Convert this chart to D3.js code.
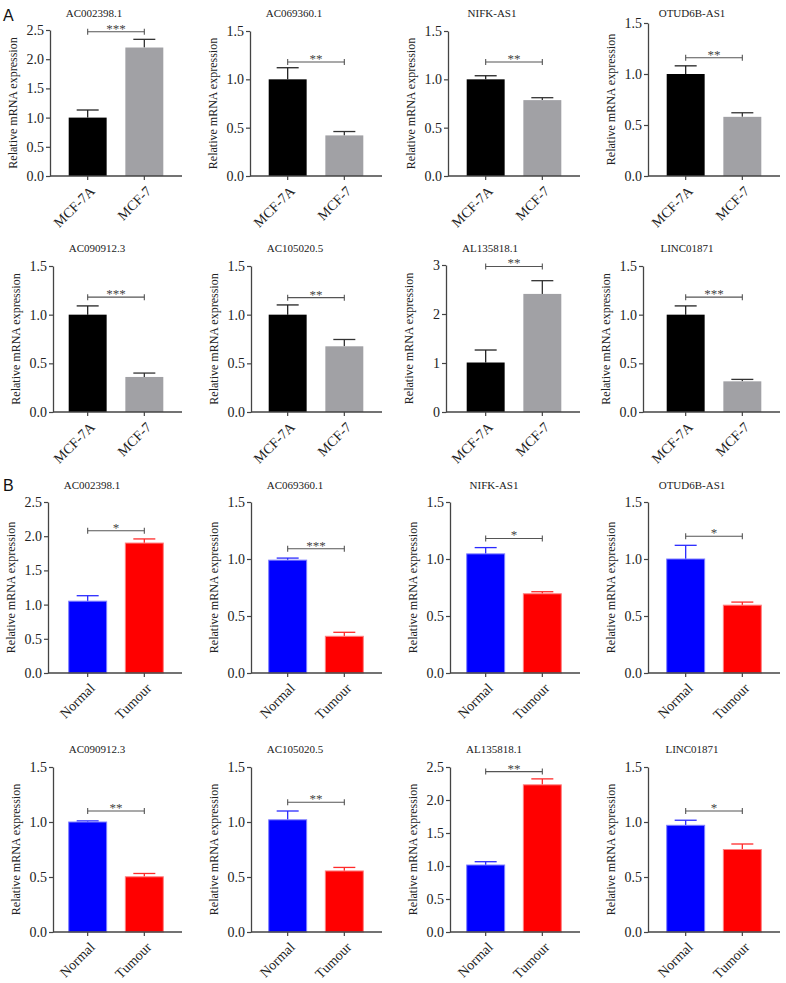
<!DOCTYPE html>
<html><head><meta charset="utf-8">
<script src="https://cdn.jsdelivr.net/npm/d3@7"></script>
<style>body{margin:0;background:#fff}svg{display:block}</style>
</head><body><svg id="c" width="786" height="983"></svg>
<script>
// ---------- DATA ----------
const genes = ["AC002398.1","AC069360.1","NIFK-AS1","OTUD6B-AS1","AC090912.3","AC105020.5","AL135818.1","LINC01871"];
const cellCats = ["MCF-7A","MCF-7"];
const tissueCats = ["Normal","Tumour"];

const cellMeans  = [[1.00,2.20],[1.00,0.42],[1.00,0.785],[1.00,0.58],[1.00,0.36],[1.00,0.675],[1.01,2.41],[1.00,0.315]];
const cellErrors = [[0.13,0.14],[0.12,0.04],[0.037,0.025],[0.08,0.04],[0.09,0.04],[0.10,0.07],[0.255,0.27],[0.09,0.02]];
const cellYMax   = [2.5,1.5,1.5,1.5,1.5,1.5,3,1.5];
const cellTickStep = [0.5,0.5,0.5,0.5,0.5,0.5,1,0.5];
const cellSig    = ["***","**","**","**","***","**","**","***"];
const cellSigY   = [2.47,1.18,1.18,1.16,1.18,1.175,2.97,1.18];

const tissueMeans  = [[1.05,1.90],[0.99,0.322],[1.045,0.695],[1.00,0.595],[1.00,0.502],[1.02,0.555],[1.015,2.23],[0.97,0.75]];
const tissueErrors = [[0.08,0.06],[0.018,0.035],[0.055,0.018],[0.12,0.027],[0.01,0.03],[0.08,0.032],[0.05,0.09],[0.046,0.05]];
const tissueYMax   = [2.5,1.5,1.5,1.5,1.5,1.5,2.5,1.5];
const tissueTickStep = [0.5,0.5,0.5,0.5,0.5,0.5,0.5,0.5];
const tissueSig    = ["*","***","*","*","**","**","**","*"];
const tissueSigY   = [2.08,1.09,1.18,1.20,1.10,1.18,2.43,1.10];

const yLabel = "Relative mRNA expression";
const panelLetters = ["A","B"];

// ---------- LAYOUT ----------
const rowTop = [[30,31,31,23],[266,266,265,266],[502,502,502,502],[767,767,767,767]];
const rowBottom = [176,412,673,932];
const rowTitleY = [17,252,489,753];
const rowAxisX = [[50,250,448,648],[53,251,446,643],[48,251,450,648],[53,251,450,648]];
const colStart = [50,250,448,648];
const plotW = 132;
const letterY = [21,491];

const serif = "'Liberation Serif','Times New Roman',serif";
const sans = "'Liberation Sans',Arial,sans-serif";
const axisColor = "#444";

const sets = [
  {cats: cellCats, means: cellMeans, errs: cellErrors, ymax: cellYMax, step: cellTickStep, sig: cellSig, sigY: cellSigY,
   fill: ["#000000","#a1a1a5"], stroke: ["none","none"], errColor: ["#222","#333"]},
  {cats: tissueCats, means: tissueMeans, errs: tissueErrors, ymax: tissueYMax, step: tissueTickStep, sig: tissueSig, sigY: tissueSigY,
   fill: ["#0000ff","#ff0000"], stroke: ["#8080ff","#ff8080"], errColor: ["#2a2aff","#ff2a2a"]}
];

const svg = d3.select("#c");
svg.append("rect").attr("width",786).attr("height",983).attr("fill","#fff");

panelLetters.forEach((L,k)=>{
  svg.append("text").attr("x",3).attr("y",letterY[k]).attr("font-family",sans)
    .attr("font-size",16).attr("fill","#111").text(L);
});

sets.forEach((S, si)=>{
  genes.forEach((gene, i)=>{
    const row = si*2 + Math.floor(i/4), col = i%4;
    const top = rowTop[row][col], bottom = rowBottom[row];
    const ax = rowAxisX[row][col];
    const g = svg.append("g");
    const y = d3.scaleLinear().domain([0, S.ymax[i]]).range([bottom, top]);
    const x = d3.scaleBand().domain(S.cats).range([colStart[col], colStart[col]+plotW])
      .paddingInner(0.33).paddingOuter(0.33);
    const bw = x.bandwidth();
    const data = S.cats.map((c,j)=>({c, v:S.means[i][j], e:S.errs[i][j], j}));

    const eg = g.append("g");
    data.forEach(d=>{
      const cx = x(d.c) + bw/2;
      eg.append("line").attr("x1",cx).attr("x2",cx).attr("y1",y(d.v)).attr("y2",y(d.v+d.e))
        .attr("stroke",S.errColor[d.j]).attr("stroke-width",1.3);
      eg.append("line").attr("x1",cx-11).attr("x2",cx+11).attr("y1",y(d.v+d.e)).attr("y2",y(d.v+d.e))
        .attr("stroke",S.errColor[d.j]).attr("stroke-width",1.3);
    });
    g.selectAll("rect.bar").data(data).join("rect").attr("class","bar")
      .attr("x",d=>x(d.c)).attr("width",bw)
      .attr("y",d=>y(d.v)).attr("height",d=>bottom - y(d.v))
      .attr("fill",d=>S.fill[d.j])
      .attr("stroke",d=>S.stroke[d.j]).attr("stroke-width",1);

    const ticks = d3.range(0, S.ymax[i] + 1e-9, S.step[i]);
    const fmt = S.step[i] >= 1 ? d3.format("d") : d3.format(".1f");
    const ya = g.append("g").attr("transform",`translate(${ax},0)`)
      .call(d3.axisLeft(y).tickValues(ticks).tickFormat(fmt).tickSize(4).tickSizeOuter(0).tickPadding(2));
    ya.select(".domain").attr("stroke",axisColor).attr("stroke-width",1.3);
    ya.selectAll(".tick line").attr("stroke",axisColor).attr("stroke-width",1.2);
    ya.selectAll(".tick text").attr("font-family",serif).attr("font-size",14).attr("fill","#222");

    const xa = g.append("g");
    xa.append("line").attr("x1",ax).attr("x2",colStart[col]+plotW).attr("y1",bottom).attr("y2",bottom)
      .attr("stroke",axisColor).attr("stroke-width",1.3);
    data.forEach(d=>{
      const cx = x(d.c) + bw/2;
      xa.append("line").attr("x1",cx).attr("x2",cx).attr("y1",bottom).attr("y2",bottom+4)
        .attr("stroke",axisColor).attr("stroke-width",1.2);
      const lx = cx + 8, ly = bottom + 16;
      xa.append("text").attr("x",lx).attr("y",ly).attr("text-anchor","end")
        .attr("transform",`rotate(-45,${lx},${ly})`)
        .attr("font-family",serif).attr("font-size",14).attr("fill","#222").text(d.c);
    });

    g.append("text").attr("transform",`translate(${ax-37},${(top+bottom)/2}) rotate(-90)`)
      .attr("text-anchor","middle").attr("dy","0.35em")
      .attr("font-family",serif).attr("font-size",12).attr("fill","#222").text(yLabel);

    g.append("text").attr("x",ax+44).attr("y",rowTitleY[row]).attr("text-anchor","middle")
      .attr("font-family",serif).attr("font-size",11).attr("fill","#222").text(gene);

    const c1 = x(S.cats[0]) + bw/2, c2 = x(S.cats[1]) + bw/2, by = y(S.sigY[i]);
    const bg = g.append("g").attr("stroke","#555").attr("stroke-width",1.1);
    bg.append("line").attr("x1",c1).attr("x2",c2).attr("y1",by).attr("y2",by);
    bg.append("line").attr("x1",c1).attr("x2",c1).attr("y1",by-3).attr("y2",by+3);
    bg.append("line").attr("x1",c2).attr("x2",c2).attr("y1",by-3).attr("y2",by+3);
    g.append("text").attr("x",(c1+c2)/2).attr("y",by+1).attr("text-anchor","middle")
      .attr("font-family",serif).attr("font-size",13).attr("fill","#444").text(S.sig[i]);
  });
});
</script></body></html>
